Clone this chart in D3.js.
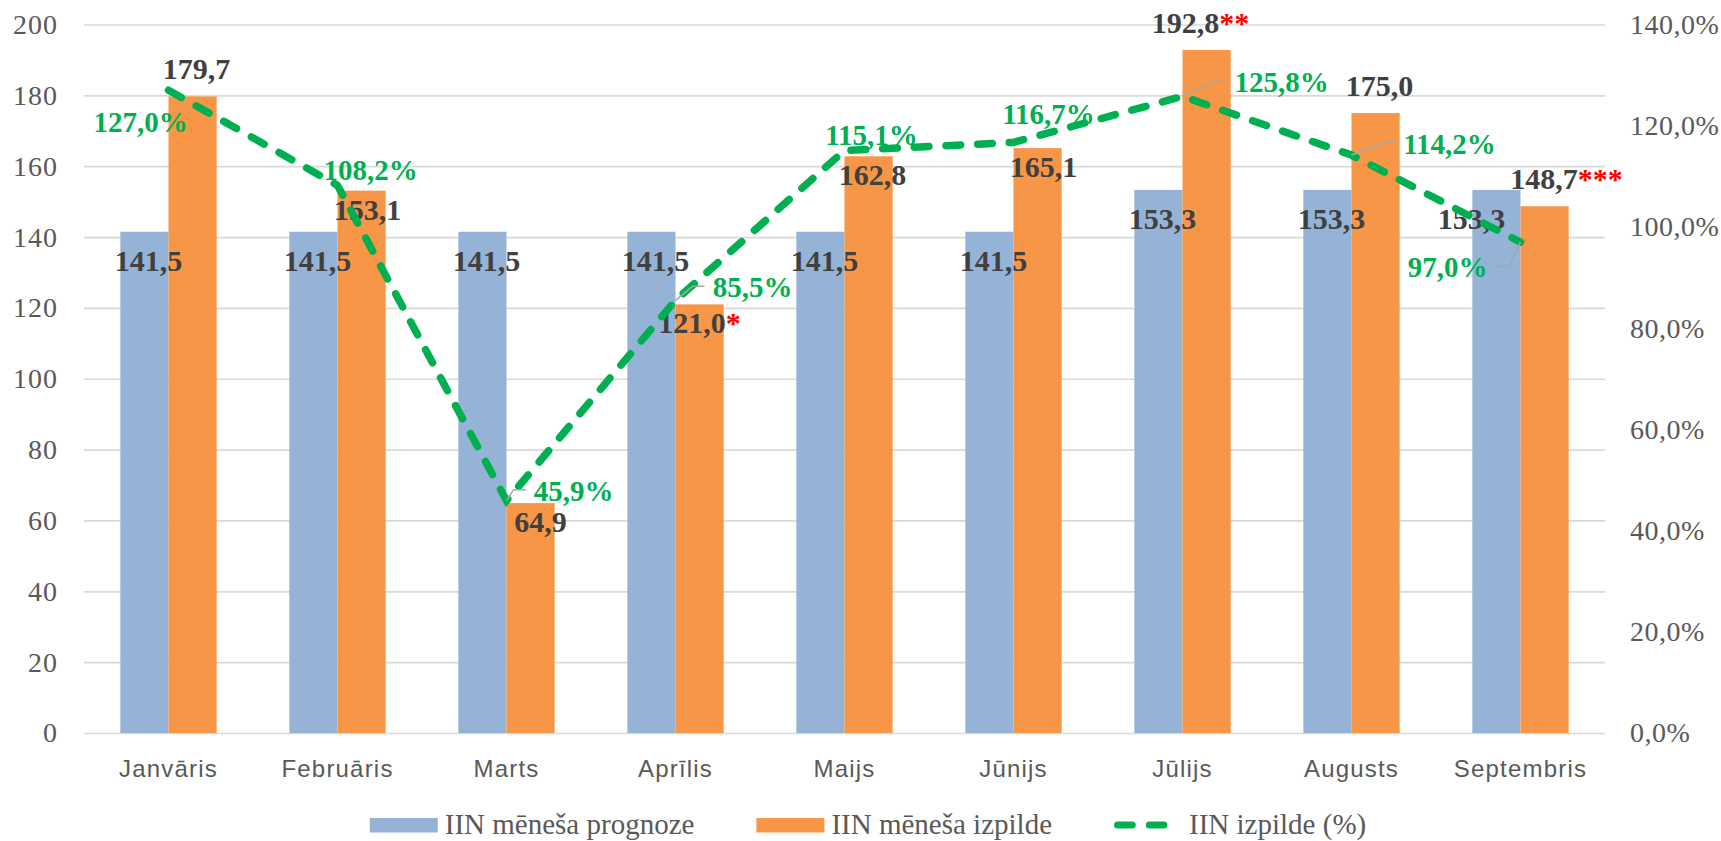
<!DOCTYPE html>
<html>
<head>
<meta charset="utf-8">
<script src="https://cdn.jsdelivr.net/npm/d3@7"></script>
<style>
    body { margin: 0; background: #fff; }
    .serif { font-family: "Liberation Serif", "Times New Roman", serif; }
    .sans { font-family: "Liberation Sans", Arial, sans-serif; }
</style>
</head>
<body>
<script>
//chart data
var months = ["Janvāris", "Februāris", "Marts", "Aprīlis", "Maijs", "Jūnijs", "Jūlijs", "Augusts", "Septembris"];
var prognoze = [141.5, 141.5, 141.5, 141.5, 141.5, 141.5, 153.3, 153.3, 153.3];
var izpilde = [179.7, 153.1, 64.9, 121.0, 162.8, 165.1, 192.8, 175.0, 148.7];
var izpildePct = [127.0, 108.2, 45.9, 85.5, 115.1, 116.7, 125.8, 114.2, 97.0];
var izpildeNote = ["", "", "", "*", "", "", "**", "", "***"];
var leftTicks = [0, 20, 40, 60, 80, 100, 120, 140, 160, 180, 200];
var rightTicks = [0, 20, 40, 60, 80, 100, 120, 140];
var seriesNames = ["IIN mēneša prognoze", "IIN mēneša izpilde", "IIN izpilde (%)"];

//hand placed label nudges (Excel style manual placement)
var blueDx = [4, 4, 4, 4, 4, 4, 4, 4, -25];
var orangeDx = [4, 6, 10, 0, 4, 6, -6, 4, 22];
var orangeInside = [false, true, true, true, true, true, false, false, false];
var pctDx = [-28, 33, 67, 77, 27, 35, 99, 98, -73];
var pctDy = [42, -5, 0, -3, -6, -18, -4, -1, 35];
var pctLeader = [false, false, true, true, false, false, true, true, true];

window.onload = drawChart();

function drawChart() {
    var width = 1721,
        height = 841;

    var left = 84, right = 1605, top = 24.5, bottom = 733;

    var svg = d3.select("body")
        .append("svg")
        .attr("width", width)
        .attr("height", height);

    var lv = d3.formatLocale({decimal: ",", thousands: " ", grouping: [3], currency: ["", ""]});
    var f1 = lv.format(".1f");

    //scales
    var x = d3.scaleBand()
        .domain(months)
        .range([left, right])
        .paddingInner(0.43)
        .paddingOuter(0.215);

    var xs = d3.scaleBand()
        .domain([0, 1])
        .range([0, x.bandwidth()]);

    var y = d3.scaleLinear().domain([0, 200]).range([bottom, top]);
    var yR = d3.scaleLinear().domain([0, 140]).range([bottom, top]);

    //left axis + gridlines
    var gLeft = svg.append("g")
        .attr("transform", "translate(" + left + ",0)")
        .call(d3.axisLeft(y).tickValues(leftTicks).tickSize(-(right - left)).tickPadding(26).tickFormat(lv.format("d")));
    gLeft.select(".domain").remove();
    gLeft.selectAll(".tick line").attr("stroke", "#d9d9d9").attr("stroke-width", 1.7);
    gLeft.selectAll(".tick text")
        .attr("class", "serif")
        .attr("font-size", 28)
        .attr("letter-spacing", 1)
        .attr("fill", "#595959");

    //right axis
    var gRight = svg.append("g")
        .attr("transform", "translate(" + right + ",0)")
        .call(d3.axisRight(yR).tickValues(rightTicks).tickSize(0).tickPadding(25).tickFormat(function(d) { return f1(d) + "%"; }));
    gRight.select(".domain").remove();
    gRight.selectAll(".tick text")
        .attr("class", "serif")
        .attr("font-size", 28)
        .attr("letter-spacing", 0.5)
        .attr("fill", "#595959");

    //category axis
    var gBottom = svg.append("g")
        .attr("transform", "translate(0," + bottom + ")")
        .call(d3.axisBottom(x).tickSize(0).tickPadding(27));
    gBottom.select(".domain").remove();
    gBottom.selectAll(".tick text")
        .attr("class", "sans")
        .attr("font-size", 24)
        .attr("letter-spacing", 1.2)
        .attr("fill", "#595959");

    //bars
    var colors = ["#95b3d7", "#f79646"];
    var series = [prognoze, izpilde];

    series.forEach(function(vals, s) {
        svg.append("g").selectAll("rect")
            .data(vals)
            .enter()
            .append("rect")
            .attr("x", function(d, i) { return x(months[i]) + xs(s); })
            .attr("y", function(d) { return y(d); })
            .attr("width", xs.bandwidth())
            .attr("height", function(d) { return bottom - y(d); })
            .attr("fill", colors[s]);
    });

    //bar value labels
    svg.append("g").selectAll("text")
        .data(prognoze)
        .enter()
        .append("text")
        .attr("class", "serif")
        .attr("font-size", 30)
        .attr("font-weight", "bold")
        .attr("fill", "#404040")
        .attr("text-anchor", "middle")
        .attr("x", function(d, i) { return x(months[i]) + xs(0) + xs.bandwidth() / 2 + blueDx[i]; })
        .attr("y", function(d) { return y(d) + 39; })
        .text(function(d) { return f1(d); });

    var oLabels = svg.append("g").selectAll("text")
        .data(izpilde)
        .enter()
        .append("text")
        .attr("class", "serif")
        .attr("font-size", 30)
        .attr("font-weight", "bold")
        .attr("text-anchor", "middle")
        .attr("x", function(d, i) { return x(months[i]) + xs(1) + xs.bandwidth() / 2 + orangeDx[i]; })
        .attr("y", function(d, i) { return orangeInside[i] ? y(d) + 29 : y(d) - 17; });
    oLabels.append("tspan")
        .attr("fill", "#404040")
        .text(function(d) { return f1(d); });
    oLabels.append("tspan")
        .attr("fill", "#ff0000")
        .text(function(d, i) { return izpildeNote[i]; });

    //percentage line
    var cx = function(i) { return x(months[i]) + x.bandwidth() / 2; };

    var line = d3.line()
        .x(function(d, i) { return cx(i); })
        .y(function(d) { return yR(d); });

    svg.append("path")
        .datum(izpildePct)
        .attr("d", line)
        .attr("fill", "none")
        .attr("stroke", "#00b050")
        .attr("stroke-width", 7.5)
        .attr("stroke-linecap", "round")
        .attr("stroke-dasharray", "14.7 17");

    //percentage labels
    var leaders = svg.append("g");
    var pLabels = svg.append("g").selectAll("text")
        .data(izpildePct)
        .enter()
        .append("text")
        .attr("class", "serif")
        .attr("font-size", 29)
        .attr("font-weight", "bold")
        .attr("fill", "#00b050")
        .attr("text-anchor", "middle")
        .attr("x", function(d, i) { return cx(i) + pctDx[i]; })
        .attr("y", function(d, i) { return yR(d) + pctDy[i]; })
        .text(function(d) { return f1(d) + "%"; });

    pLabels.each(function(d, i) {
        if (!pctLeader[i]) return;
        var w = this.getComputedTextLength();
        var px = cx(i), py = yR(d);
        var lx = cx(i) + pctDx[i], ly = yR(d) + pctDy[i] - 11;
        var pts;
        if (pctDx[i] > 0) {
            var L = lx - w / 2;
            pts = [[px, py], [L - 20, ly], [L - 8, ly]];
        } else {
            var R = lx + w / 2;
            pts = [[px, py], [R + 22, ly], [R + 11, ly]];
        }
        leaders.append("path")
            .attr("d", d3.line()(pts))
            .attr("fill", "none")
            .attr("stroke", "#a6a6a6")
            .attr("stroke-width", 1.5);
    });

    //legend
    var legend = svg.append("g");
    var items = legend.selectAll("g")
        .data(seriesNames)
        .enter()
        .append("g");

    items.append("text")
        .attr("class", "serif")
        .attr("font-size", 29)
        .attr("fill", "#595959")
        .attr("y", 834)
        .text(function(d) { return d; });

    var swW = 68, swGap = 7, itemGap = 62;
    var widths = [];
    items.select("text").each(function() { widths.push(this.getComputedTextLength()); });
    var total = d3.sum(widths) + 3 * (swW + swGap) + 2 * itemGap;
    var pos = 868 - total / 2;

    items.each(function(d, i) {
        var g = d3.select(this);
        if (i < 2) {
            g.append("rect")
                .attr("x", pos)
                .attr("y", 818)
                .attr("width", swW)
                .attr("height", 14.5)
                .attr("fill", colors[i]);
        } else {
            g.append("path")
                .attr("d", d3.line()([[pos + 3.5, 825], [pos + swW - 3.5, 825]]))
                .attr("stroke", "#00b050")
                .attr("stroke-width", 7)
                .attr("stroke-linecap", "round")
                .attr("stroke-dasharray", "14.7 17");
        }
        g.select("text").attr("x", pos + swW + swGap);
        pos += swW + swGap + widths[i] + itemGap;
    });
}
</script>
</body>
</html>
